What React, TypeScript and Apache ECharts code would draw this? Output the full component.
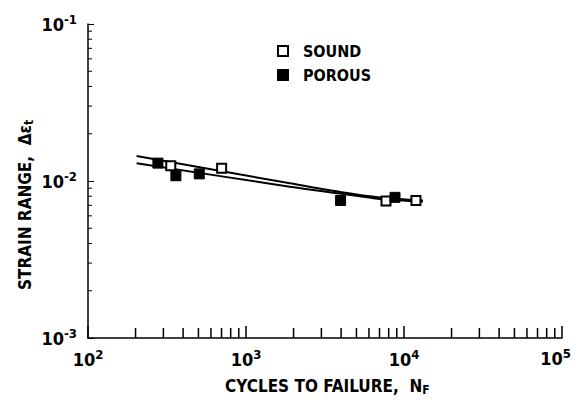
import React, { useEffect, useRef } from "react";
import * as echarts from "echarts";

const soundCycles = [334, 701, 7690, 11900];
const soundStrain = [0.0125, 0.01205, 0.00747, 0.00752];
const porousCycles = [277, 360, 506, 3970, 8770];
const porousStrain = [0.0130, 0.0108, 0.0111, 0.00752, 0.00787];
const soundFitCycles = [203, 1897, 3936, 7047, 13180];
const soundFitStrain = [0.01442, 0.00966, 0.00851, 0.00785, 0.00751];
const porousFitCycles = [203, 1897, 3936, 7047, 13180];
const porousFitStrain = [0.01297, 0.0092, 0.00832, 0.00768, 0.0074];
const xMinorTicks = [200, 300, 400, 500, 600, 700, 800, 900, 2000, 3000, 4000, 5000, 6000, 7000, 8000, 9000, 20000, 30000, 40000, 50000, 60000, 70000, 80000, 90000];
const yMinorTicks = [0.002, 0.003, 0.004, 0.005, 0.006, 0.007, 0.008, 0.009, 0.02, 0.03, 0.04, 0.05, 0.06, 0.07, 0.08, 0.09];
const X_MAX = 100000;

const FONT = "DejaVu Sans Condensed";

const expLabel = (v: number) => {
  const e = Math.round(Math.log10(v));
  return `{b|10}{s|${e}}`;
};

export default function App() {
  const ref = useRef<HTMLDivElement>(null);
  useEffect(() => {
    if (!ref.current) return;
    const chart = echarts.init(ref.current, null, { renderer: "svg" });
    const rich = {
      b: { fontSize: 18, fontWeight: "bold", fontFamily: FONT, color: "#000" },
      s: { fontSize: 13, fontWeight: "bold", fontFamily: FONT, color: "#000", verticalAlign: "top", padding: [0, 0, 9, 0] },
    };
    const grich = {
      b: { fontSize: 18, fontWeight: "bold", fontFamily: FONT, fill: "#000" },
      s: { fontSize: 13, fontWeight: "bold", fontFamily: FONT, fill: "#000", verticalAlign: "top", padding: [0, 0, 9, 0] },
    };
    const titleRich = {
      sub: { fontSize: 12, fontWeight: "bold", fontFamily: FONT, fill: "#000", verticalAlign: "bottom", padding: [9, 0, 0, 0] },
    };
    chart.setOption({
      animation: false,
      backgroundColor: "#fff",
      grid: { left: 88, right: 18, top: 24, bottom: 71 },
      legend: {
        data: ["SOUND", "POROUS"],
        orient: "vertical",
        left: 272,
        top: 38,
        itemWidth: 10,
        itemHeight: 10,
        itemGap: 8,
        textStyle: { fontSize: 16, fontWeight: "bold", fontFamily: FONT, color: "#000", padding: [0, 0, 0, 10] },
      },
      xAxis: {
        type: "log",
        logBase: 10,
        min: 100,
        max: X_MAX,
        axisLine: { show: true, lineStyle: { color: "#000", width: 1.5 } },
        axisTick: { show: true, inside: true, length: 12, lineStyle: { color: "#000", width: 1.5 } },
        splitLine: { show: false },
        axisLabel: {
          formatter: (v: number) => (v >= X_MAX ? "" : expLabel(v)),
          rich,
          margin: 10,
        },
      },
      yAxis: {
        type: "log",
        logBase: 10,
        min: 0.001,
        max: 0.1,
        axisLine: { show: true, lineStyle: { color: "#000", width: 1.5 } },
        axisTick: { show: true, inside: true, length: 6, lineStyle: { color: "#000", width: 1 } },
        splitLine: { show: false },
        axisLabel: { formatter: expLabel, rich, margin: 11 },
      },
      graphic: [
        {
          type: "text",
          right: 9,
          top: 347,
          style: {
            text: expLabel(X_MAX),
            rich: grich,
          },
        },
        {
          type: "text",
          left: 225,
          top: 377,
          style: {
            text: "CYCLES TO FAILURE,  N{sub|F}",
            fontSize: 17,
            fontWeight: "bold",
            fontFamily: FONT,
            fill: "#000",
            rich: titleRich,
          },
        },
        {
          type: "text",
          x: 14,
          y: 290,
          rotation: Math.PI / 2,
          style: {
            text: "STRAIN RANGE,  \u0394\u03b5{sub|t}",
            fontSize: 17,
            fontWeight: "bold",
            fontFamily: FONT,
            fill: "#000",
            rich: titleRich,
          },
        },
      ],
      series: [
        {
          name: "SOUND fit",
          type: "line",
          data: soundFitCycles.map((c, i) => [c, soundFitStrain[i]]),
          showSymbol: false,
          smooth: 0.3,
          lineStyle: { color: "#000", width: 2 },
          z: 2,
        },
        {
          name: "POROUS fit",
          type: "line",
          data: porousFitCycles.map((c, i) => [c, porousFitStrain[i]]),
          showSymbol: false,
          smooth: 0.3,
          lineStyle: { color: "#000", width: 2 },
          z: 2,
        },
        {
          name: "SOUND",
          type: "scatter",
          symbol: "rect",
          symbolSize: 9,
          data: soundCycles.map((c, i) => [c, soundStrain[i]]),
          itemStyle: { color: "#fff", borderColor: "#000", borderWidth: 2, opacity: 1 },
          z: 3,
        },
        {
          name: "POROUS",
          type: "scatter",
          symbol: "rect",
          symbolSize: 10,
          data: porousCycles.map((c, i) => [c, porousStrain[i]]),
          itemStyle: { color: "#000", borderColor: "#000", borderWidth: 1, opacity: 1 },
          z: 3,
        },
        {
          name: "xticks",
          type: "custom",
          clip: false,
          silent: true,
          data: xMinorTicks.map((c) => [c, 0.001]),
          renderItem: (_p: any, api: any) => {
            const p = api.coord([api.value(0), api.value(1)]);
            return {
              type: "line",
              shape: { x1: p[0], y1: p[1], x2: p[0], y2: p[1] - 10 },
              style: { stroke: "#000", lineWidth: 1.5 },
            };
          },
        },
        {
          name: "yticks",
          type: "custom",
          clip: false,
          silent: true,
          data: yMinorTicks.map((s) => [100, s]),
          renderItem: (_p: any, api: any) => {
            const p = api.coord([api.value(0), api.value(1)]);
            return {
              type: "line",
              shape: { x1: p[0], y1: p[1], x2: p[0] + 4, y2: p[1] },
              style: { stroke: "#000", lineWidth: 1 },
            };
          },
        },
      ],
    });
    return () => chart.dispose();
  }, []);
  return <div ref={ref} style={{ width: 580, height: 409, margin: -8 }} />;
}
